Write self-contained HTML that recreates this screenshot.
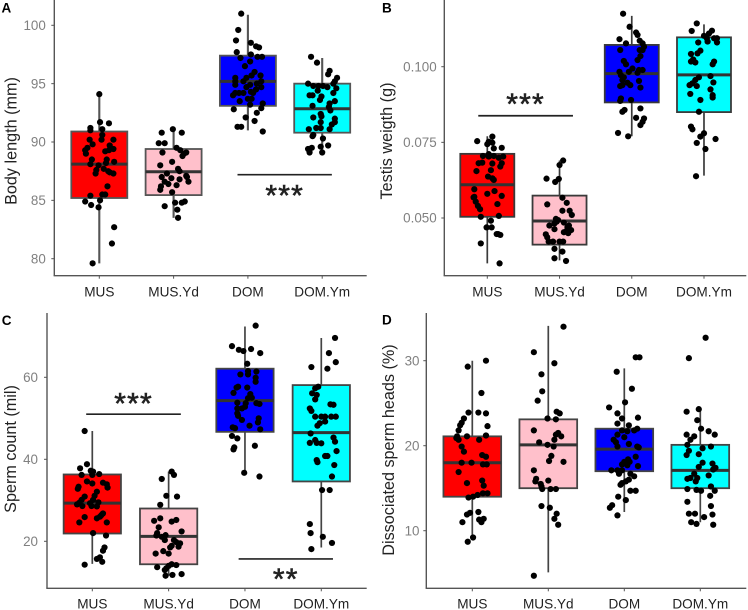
<!DOCTYPE html>
<html lang="en">
<head>
<meta charset="utf-8">
<title>Boxplots of body length, testis weight, sperm count and dissociated sperm heads</title>
<style>
html,body{margin:0;padding:0;background:#fff;}
svg{display:block;font-family:"Liberation Sans",Arial,sans-serif;filter:blur(0.3px);}
</style>
</head>
<body>
<svg id="figure" xmlns="http://www.w3.org/2000/svg" width="748" height="610" viewBox="0 0 748 610"></svg>
<script>
/* Shared categories */
const categories = ['MUS', 'MUS.Yd', 'DOM', 'DOM.Ym'];
const boxFills = ['#ff0000', '#ffc0cb', '#0000ff', '#00ffff'];

/* Panel A: body length (mm) */
const aTickValues = [80, 85, 90, 95, 100];
const aTickLabels = ['80', '85', '90', '95', '100'];
const aQ1 = [85.2, 85.45, 93.1, 90.8];
const aMedian = [88.1, 87.45, 95.2, 92.85];
const aQ3 = [90.9, 89.4, 97.4, 95];
const aWhiskerLow = [79.6, 83.5, 91, 89];
const aWhiskerHigh = [94.1, 91.1, 100.9, 97.2];
/* Points are [jitter in category units, value] */
const aPointsMus = [[0,94.1],[.01,91.7],[.13,91.6],[-.12,91.2],[-.12,91],[.04,91.1],[.04,90.6],[.19,90.2],[-.13,90.2],[.03,90.2],[-.09,89.8],[-.16,89.5],[.14,89.7],[.19,89.4],[-.19,89.3],[-.18,89],[.08,89.2],[.13,89.3],[.1,88.5],[.2,88.3],[-.1,88.5],[-.12,88.1],[.09,88.2],[-.01,88],[.06,87.7],[.12,87.5],[.19,87.3],[-.05,87.3],[.14,87.4],[-.04,87.6],[.11,86.2],[-.12,85.4],[.04,85.5],[.08,85.5],[.01,85],[-.19,84.9],[-.11,84.6],[-.01,84.4],[.2,82.7],[.17,81.3],[-.09,79.6]];
const aPointsMusYd = [[-.16,90.8],[-.01,91.1],[.11,90.8],[-.2,89.9],[-.12,89.9],[.04,89.5],[-.15,89.1],[.09,89.3],[.17,89.1],[.12,88.8],[.14,89],[-.02,88.3],[-.18,88],[.06,87.7],[.08,87.5],[-.09,87.3],[.17,87.1],[-.16,87],[-.03,86.9],[.08,86.8],[.18,87],[.2,86.6],[-.12,86.6],[-.07,86.4],[.04,86.3],[-.17,86.2],[-.18,85.9],[-.02,85.7],[.02,84.8],[.11,84.8],[.15,84.9],[-.12,84.5],[.05,84.2],[.06,83.5]];
const aPointsDom = [[-.09,101],[-.13,99.6],[-.16,98.7],[.04,98.5],[.11,98.2],[.15,98.1],[-.15,97.7],[.04,97.5],[-.1,97.2],[.13,97.3],[.19,97.3],[.03,96.9],[-.04,96.5],[.09,96],[.05,95.7],[.17,95.7],[-.17,95.5],[-.02,95.5],[.18,95.2],[-.17,95.2],[-.06,95.2],[.12,95],[.03,94.9],[-.17,94.9],[-.02,94.7],[.18,94.7],[.11,94.5],[.04,94.3],[-.06,94.2],[-.12,94.2],[-.17,94.2],[-.2,94],[.07,94.2],[0,93.7],[.05,93.7],[-.11,93.5],[.2,93.3],[.03,93.2],[.18,92.9],[-.19,92.8],[.12,92.5],[-.03,92.1],[.09,91.8],[-.09,91.3],[-.14,91.3],[.2,90.9]];
const aPointsDomYm = [[-.15,97.3],[-.07,96.8],[.1,96.1],[.08,95.8],[.2,95.5],[.17,95.2],[-.19,95],[.15,95],[-.12,94.8],[-.05,94.8],[.01,94.8],[.19,94.6],[.07,94.7],[-.06,94.4],[.15,94.2],[-.17,94],[-.13,94],[-.01,93.9],[-.03,93.6],[.17,93.5],[.1,93.3],[.09,93],[-.13,93.1],[.11,92.7],[-.02,92.4],[-.01,92.2],[.17,92],[-.12,92.1],[.17,91.7],[-.02,91.7],[.13,91.5],[-.08,91.2],[-.18,91.1],[-.02,91.2],[.1,91.1],[-.12,90.6],[-.13,90.5],[.01,90.3],[.08,89.7],[-.02,89.6],[-.14,89.5],[-.19,89.4],[-.17,89.1],[0,89.1]];

/* Panel B: testis weight (g) */
const bTickValues = [0.05, 0.075, 0.1];
const bTickLabels = ['0.050', '0.075', '0.100'];
const bQ1 = [0.0504, 0.0412, 0.0882, 0.085];
const bMedian = [0.061, 0.049, 0.0977, 0.0973];
const bQ3 = [0.0712, 0.0574, 0.1072, 0.1097];
const bWhiskerLow = [0.035, 0.036, 0.077, 0.064];
const bWhiskerHigh = [0.077, 0.069, 0.1168, 0.114];
const bPointsMus = [[.17,.035],[-.09,.0416],[.18,.0444],[.15,.0447],[.13,.0447],[-.01,.0469],[.06,.0469],[.05,.0491],[-.09,.0504],[.16,.0507],[-.1,.0529],[-.13,.054],[.14,.0546],[-.16,.0554],[-.19,.0568],[-.18,.057],[.2,.0573],[0,.058],[-.18,.0595],[.1,.0589],[.07,.0631],[.01,.0637],[.09,.0626],[-.15,.0655],[.05,.0658],[.18,.067],[.2,.0681],[-.12,.0681],[-.07,.0683],[.07,.068],[-.06,.0705],[.02,.0703],[.09,.0705],[.22,.0703],[.2,.0732],[.09,.073],[.07,.0749],[0,.0744],[-.14,.0754],[.07,.0769],[.02,.0752],[.02,.0711],[.16,.0699]];
const bPointsMusYd = [[.05,.069],[0,.0675],[-.18,.063],[-.01,.0629],[-.06,.0619],[.04,.0567],[.1,.055],[-.17,.0545],[.04,.0524],[.14,.0524],[.17,.051],[-.05,.0497],[-.04,.0488],[-.02,.0493],[-.07,.0482],[.06,.0485],[-.14,.0475],[.13,.0475],[-.07,.0463],[.11,.047],[.1,.0458],[.16,.046],[.06,.0453],[.12,.045],[-.19,.0446],[-.17,.0436],[-.15,.0422],[-.09,.0422],[0,.0422],[.05,.0422],[-.07,.0398],[.04,.0389],[-.07,.0367],[.09,.0358]];
const bPointsDom = [[-.12,.1175],[-.03,.1132],[.06,.1113],[.08,.1105],[-.17,.1091],[.11,.1086],[-.08,.1077],[.15,.1077],[.17,.1066],[-.16,.1055],[.11,.1055],[.15,.1055],[.12,.1035],[.08,.1022],[-.11,.1019],[-.08,.1008],[.01,.0994],[.1,.0989],[.15,.0989],[-.17,.0983],[.08,.098],[-.15,.0972],[-.04,.0983],[-.11,.0965],[-.13,.0956],[.1,.0953],[-.06,.0947],[-.13,.0939],[-.16,.0936],[-.02,.0939],[.12,.0931],[-.15,.0895],[-.16,.0887],[-.01,.089],[-.1,.0857],[.12,.0862],[-.13,.0851],[.06,.0831],[.17,.0829],[.15,.0818],[.12,.0807],[-.19,.0781],[-.05,.077]];
const bPointsDomYm = [[-.1,.1143],[-.17,.1118],[.11,.1119],[.07,.111],[0,.1102],[.04,.1094],[.14,.1094],[.18,.1094],[.05,.1083],[-.08,.108],[.18,.108],[-.05,.1053],[-.18,.1042],[-.09,.1044],[-.15,.1024],[-.18,.1017],[-.12,.1014],[.14,.1017],[.12,.1008],[.09,.0969],[-.07,.0965],[-.12,.0956],[.13,.0948],[-.16,.0945],[-.2,.0939],[-.1,.0936],[.09,.0925],[.12,.0906],[-.19,.091],[.12,.0898],[-.05,.089],[-.07,.0851],[-.18,.0802],[-.16,.0793],[0,.078],[-.05,.0769],[.16,.0761],[-.1,.0748],[.02,.0728],[-.11,.0638]];

/* Panel C: sperm count (mil) */
const cTickValues = [20, 40, 60];
const cTickLabels = ['20', '40', '60'];
const cQ1 = [21.9, 14.4, 46.7, 34.6];
const cMedian = [29.3, 21.2, 54.3, 46.5];
const cQ3 = [36.3, 28, 62.1, 58.1];
const cWhiskerLow = [14.5, 11.6, 36.2, 18.5];
const cWhiskerHigh = [46.9, 37, 72.4, 69.6];
const cPointsMus = [[-.1,46.9],[-.07,38.8],[-.16,37.8],[-.02,37.2],[.01,37],[.09,36.4],[-.14,36.2],[0,36.2],[-.07,34.6],[0,34.1],[.14,34.3],[.19,33.9],[.2,33.1],[-.18,33.3],[-.19,32.8],[.06,32.1],[.03,31.1],[-.1,30.9],[-.14,30.1],[.01,30.1],[-.17,29.4],[-.2,29],[-.03,29.3],[.08,29.5],[-.13,28.6],[-.01,28.6],[.06,28.5],[.14,26.8],[.1,26],[-.1,25.9],[.06,25.6],[.12,26.4],[-.17,24.6],[.19,24.6],[.01,22],[.18,21.4],[.16,18.5],[.14,17.7],[.1,16.1],[.06,15.7],[.13,15],[-.1,14.3]];
const cPointsMusYd = [[.04,37],[.07,36.2],[-.09,35.2],[-.03,31.1],[.11,30.9],[-.11,28.9],[-.11,25.6],[-.19,25],[.1,25.2],[.04,24.8],[-.13,23.4],[.17,22.4],[-.15,22],[-.04,21.5],[-.16,21.4],[-.09,21.1],[-.05,20.3],[.07,20.3],[.1,19.8],[.15,19.5],[.04,18.9],[.02,18.5],[.13,18.7],[-.07,17.6],[-.17,17],[0,17],[.04,14.4],[.1,14.2],[-.15,13.7],[0,14],[-.03,13.4],[-.05,13],[.17,12],[.05,11.8],[-.04,11.6]];
const cPointsDom = [[.14,72.6],[-.17,67.6],[-.08,66.7],[-.02,66.4],[.08,66.9],[.2,65.9],[.03,63.3],[.04,61.5],[.15,61.4],[-.06,60.7],[.04,60.7],[.14,59.9],[.14,58.9],[-.09,57.7],[-.11,57.5],[.03,57.5],[-.15,56.2],[.07,55.9],[.04,54.9],[.09,55],[-.1,53.8],[.01,53.7],[.15,53.7],[.19,53.5],[0,52.8],[-.1,52.4],[-.04,52.4],[-.1,51.2],[-.09,50.6],[-.04,49.6],[.18,50],[.17,49],[.06,48.2],[-.16,47.8],[-.13,47.6],[.2,47.3],[-.17,45.7],[-.1,45.1],[.13,43.3],[-.14,42.9],[-.15,42.4],[-.01,36.7],[.19,35.8]];
const cPointsDomYm = [[.18,69.6],[.1,65.9],[.19,63.7],[-.13,62.5],[.08,62.1],[-.04,57.7],[-.08,57.3],[-.12,56.1],[-.06,55.7],[-.08,54.6],[-.15,52.4],[-.13,51.8],[.12,53.4],[.16,53.3],[-.08,50.4],[0,50.4],[.05,50.4],[.13,50.4],[.19,50.4],[.05,49.2],[-.02,48.8],[-.05,48.2],[-.14,46.3],[.16,45.3],[.18,44.3],[-.15,44],[-.08,44.7],[-.06,44],[0,43.9],[.2,42],[.05,40.8],[.08,40.8],[-.06,39.8],[-.05,39.3],[.17,38.6],[.14,35.8],[.01,32.5],[.11,32.5],[-.15,24.2],[-.14,22],[.02,21.1],[.14,19.6],[-.13,18.1]];

/* Panel D: dissociated sperm heads (%) */
const dTickValues = [10, 20, 30];
const dTickLabels = ['10', '20', '30'];
const dQ1 = [14, 15, 17, 15];
const dMedian = [18, 20.1, 19.6, 17.1];
const dQ3 = [21.1, 23.1, 22, 20.1];
const dWhiskerLow = [9.2, 5.1, 12.2, 11];
const dWhiskerHigh = [30, 34.1, 29.1, 24.2];
const dPointsMus = [[.18,30],[-.06,29.3],[.12,26.2],[-.05,23.9],[.08,23.9],[.18,23.8],[-.11,23.2],[-.14,22.7],[-.16,22.4],[.2,22.3],[-.18,21.8],[-.2,21.1],[-.07,21.1],[.18,21.2],[-.21,20.9],[-.18,20.7],[.09,20.7],[-.14,19.9],[-.11,19.3],[.13,18.9],[.18,18.7],[-.14,18],[-.01,18],[.14,17.8],[.19,17.8],[-.18,16.9],[.13,15.9],[-.07,15.6],[.15,15.3],[.2,14.4],[.14,14.4],[.07,14.2],[.01,14],[-.05,13.9],[.08,12.2],[-.03,12.1],[-.07,11.9],[.15,11.4],[.09,11.3],[-.13,11],[.12,11],[.01,9.2],[-.06,8.7]];
const dPointsMusYd = [[.2,34],[-.19,31],[.08,29.7],[-.09,28.4],[-.08,26.4],[-.14,25.3],[.11,24],[.15,23.8],[-.01,23.2],[.1,23.1],[-.19,21.8],[.13,21.5],[.1,21.3],[.17,21.1],[.08,20.7],[-.12,20.4],[-.01,20.1],[.07,19.9],[.04,18.8],[.01,18.2],[.2,18.1],[-.19,17.1],[-.16,16.1],[-.17,15.8],[0,15.9],[-.1,15.5],[-.09,15.2],[-.08,14.9],[.03,14.9],[.1,14.9],[-.09,12.9],[.02,12.7],[.11,12],[.08,11.4],[.13,10.7],[-.19,4.7]];
const dPointsDom = [[.15,30.4],[.2,30.4],[-.1,28.7],[.1,26.7],[.01,25.1],[-.2,24.5],[.18,23.3],[-.09,23.8],[-.03,23.2],[-.09,22.6],[.06,22.4],[-.03,21.8],[.17,22],[.13,21.8],[.04,21.7],[-.09,21.3],[0,21],[-.14,20.7],[-.11,20.4],[.06,20.2],[.17,19.9],[.19,19.8],[-.09,19.9],[.15,18.7],[.05,18.4],[0,18.1],[.07,18.1],[-.03,17.8],[.04,17.7],[.18,17.6],[-.17,17.1],[-.09,17.1],[-.03,17.1],[-.07,16.7],[.08,16.7],[.13,16.4],[.06,16],[.02,15.8],[-.03,15.6],[-.05,15.4],[.08,14.7],[.15,14.7],[-.08,14],[.02,13.6],[-.16,13],[-.19,12.7],[-.09,11.8]];
const dPointsDomYm = [[.07,32.7],[-.15,30.3],[-.02,24.3],[-.18,24],[-.04,23],[.01,22],[.11,21.7],[.19,21.3],[-.18,21.3],[-.08,21.1],[-.13,20.7],[-.17,20.1],[.14,19.9],[.03,19.7],[-.15,19.4],[-.18,18.9],[-.02,19],[.03,18],[.16,17.9],[-.02,17.5],[.2,17.4],[.17,17.2],[-.08,16.7],[.11,16.5],[-.13,16.2],[-.17,16.1],[-.04,16.2],[-.06,15.8],[.14,15.2],[.19,14.7],[-.17,14.9],[-.05,14.8],[.01,14.7],[.13,14.1],[-.17,13.4],[.14,12.9],[-.15,12],[-.07,12],[.16,11.9],[.05,11.6],[-.12,11],[-.05,10.8],[.17,10.7]];

const svg = document.getElementById('figure');
const NS = 'http://www.w3.org/2000/svg';

function attrs(el, map) {
  for (const k in map) el.setAttribute(k, map[k]);
  return el;
}

function makeLine(parent, name, x1, y1, x2, y2, stroke, width) {
  const el = document.createElementNS(NS, 'line');
  
  
  attrs(el, {x1: x1, y1: y1, x2: x2, y2: y2, stroke: stroke, 'stroke-width': width});
  parent.appendChild(el);
  return el;
}

function makeText(parent, name, str, x, y, size, fill, anchor) {
  const el = document.createElementNS(NS, 'text');
  
  
  attrs(el, {x: x, y: y, 'font-size': size, fill: fill, 'text-anchor': anchor});
  el.textContent = str;
  parent.appendChild(el);
  return el;
}

function drawPanel(p) {
  const g = document.createElementNS(NS, 'g');
  
  
  svg.appendChild(g);

  /* Axis functions */
  const yScale = function (v) {
    return p.y0 + (v - p.v0) * (p.y1 - p.y0) / (p.v1 - p.v0);
  };
  const xScale = function (c) {
    return p.x0 + c * p.step;
  };

  /* Boxes */
  categories.forEach(function (cat, i) {
    const key = cat.toLowerCase().replace('.', '-');
    const cx = xScale(i);
    makeLine(g, 'whisker-' + key, cx, yScale(p.whiskerLow[i]), cx, yScale(p.whiskerHigh[i]), p.boxStroke, p.whiskerWidth);
    const rect = document.createElementNS(NS, 'rect');
    
    
    attrs(rect, {
      x: cx - p.boxWidth / 2,
      y: yScale(p.q3[i]),
      width: p.boxWidth,
      height: yScale(p.q1[i]) - yScale(p.q3[i]),
      fill: boxFills[i],
      stroke: p.boxStroke,
      'stroke-width': 1.8
    });
    g.appendChild(rect);
    makeLine(g, 'median-' + key, cx - p.boxWidth / 2, yScale(p.median[i]), cx + p.boxWidth / 2, yScale(p.median[i]), '#333333', 3);
  });

  /* Jittered points */
  p.points.forEach(function (series, i) {
    series.forEach(function (pt) {
      const c = document.createElementNS(NS, 'circle');
      
      
      attrs(c, {cx: xScale(i + pt[0]), cy: yScale(pt[1]), r: 3.1, fill: '#000000'});
      g.appendChild(c);
    });
  });

  /* Axes */
  makeLine(g, 'y-axis-line', p.axisX, p.axisTop, p.axisX, p.axisBottom, '#555555', 1.4);
  makeLine(g, 'x-axis-line', p.axisX - 0.7, p.axisBottom, p.axisRight, p.axisBottom, '#555555', 1.4);
  p.tickValues.forEach(function (v, i) {
    makeLine(g, 'y-tick', p.axisX - 3, yScale(v), p.axisX, yScale(v), '#555555', 1);
    makeText(g, 'y-tick-label', p.tickLabels[i], p.axisX - p.tickGap, yScale(v) + 4.7, 13.4, '#808080', 'end');
  });
  categories.forEach(function (cat, i) {
    makeLine(g, 'x-tick', xScale(i), p.axisBottom, xScale(i), p.axisBottom + 3, '#555555', 1);
    makeText(g, 'x-tick-label', cat, xScale(i), p.xLabelY, 13.6, '#222222', 'middle');
  });

  /* Titles */
  const title = makeText(g, 'y-axis-title', p.title, p.titleX, p.titleY, 16.2, '#222222', 'middle');
  title.setAttribute('transform', 'rotate(-90 ' + p.titleX + ' ' + p.titleY + ')');
  const letter = makeText(g, 'panel-letter', p.letter, p.letterX, p.letterY, 13.5, '#000000', 'start');
  letter.setAttribute('font-weight', 'bold');

  /* Significance annotations */
  p.brackets.forEach(function (b) {
    const y = yScale(b.value);
    makeLine(g, 'significance-line', xScale(b.from), y, xScale(b.to), y, '#222222', 1.7);
    const t = makeText(g, 'significance-stars', b.label, (xScale(b.from) + xScale(b.to)) / 2, y + b.textOffset, 30, '#222222', 'middle');
    t.setAttribute('letter-spacing', '1.2');
    t.setAttribute('stroke', '#222222');
    t.setAttribute('stroke-width', '0.6');
  });
}

drawPanel({
  name: 'panel-a-body-length', letter: 'A', letterX: 1.5, letterY: 12.7,
  title: 'Body length (mm)', titleX: 16.6, titleY: 141,
  axisX: 54.3, axisTop: 0, axisBottom: 275.7, axisRight: 366.7, tickGap: 8.5, xLabelY: 296.7,
  x0: 99.3, step: 74.3, boxWidth: 56, boxStroke: '#555555', whiskerWidth: 2.1,
  v0: 100, y0: 25.3, v1: 80, y1: 258.7,
  tickValues: aTickValues, tickLabels: aTickLabels,
  q1: aQ1, median: aMedian, q3: aQ3, whiskerLow: aWhiskerLow, whiskerHigh: aWhiskerHigh,
  points: [aPointsMus, aPointsMusYd, aPointsDom, aPointsDomYm],
  brackets: [{from: 1.86, to: 3.13, value: 87.2, label: '***', textOffset: 31}]
});

drawPanel({
  name: 'panel-b-testis-weight', letter: 'B', letterX: 382, letterY: 12.7,
  title: 'Testis weigth (g)', titleX: 392, titleY: 141,
  axisX: 444.3, axisTop: 0, axisBottom: 275.7, axisRight: 746.3, tickGap: 7.6, xLabelY: 296.7,
  x0: 487.3, step: 72.23, boxWidth: 54, boxStroke: '#3a3a3a', whiskerWidth: 1.7,
  v0: 0.1, y0: 66.7, v1: 0.05, y1: 218,
  tickValues: bTickValues, tickLabels: bTickLabels,
  q1: bQ1, median: bMedian, q3: bQ3, whiskerLow: bWhiskerLow, whiskerHigh: bWhiskerHigh,
  points: [bPointsMus, bPointsMusYd, bPointsDom, bPointsDomYm],
  brackets: [{from: -0.125, to: 1.186, value: 0.0838, label: '***', textOffset: -1.5}]
});

drawPanel({
  name: 'panel-c-sperm-count', letter: 'C', letterX: 1.7, letterY: 325,
  title: 'Sperm count (mil)', titleX: 16, titleY: 449,
  axisX: 47, axisTop: 313, axisBottom: 588.3, axisRight: 366.7, tickGap: 9, xLabelY: 608.5,
  x0: 92.3, step: 76.33, boxWidth: 57.3, boxStroke: '#444444', whiskerWidth: 1.7,
  v0: 60, y0: 377.3, v1: 20, y1: 541.3,
  tickValues: cTickValues, tickLabels: cTickLabels,
  q1: cQ1, median: cMedian, q3: cQ3, whiskerLow: cWhiskerLow, whiskerHigh: cWhiskerHigh,
  points: [cPointsMus, cPointsMusYd, cPointsDom, cPointsDomYm],
  brackets: [
    {from: -0.08, to: 1.16, value: 51, label: '***', textOffset: -0.5},
    {from: 1.917, to: 3.153, value: 15.7, label: '**', textOffset: 30}
  ]
});

drawPanel({
  name: 'panel-d-dissociated-heads', letter: 'D', letterX: 382, letterY: 324.5,
  title: 'Dissociated sperm heads (%)', titleX: 394, titleY: 450,
  axisX: 426.3, axisTop: 313, axisBottom: 588.3, axisRight: 746.3, tickGap: 6.8, xLabelY: 608.5,
  x0: 472.3, step: 76, boxWidth: 57.7, boxStroke: '#444444', whiskerWidth: 1.7,
  v0: 30, y0: 360.7, v1: 10, y1: 530.7,
  tickValues: dTickValues, tickLabels: dTickLabels,
  q1: dQ1, median: dMedian, q3: dQ3, whiskerLow: dWhiskerLow, whiskerHigh: dWhiskerHigh,
  points: [dPointsMus, dPointsMusYd, dPointsDom, dPointsDomYm],
  brackets: []
});
</script>
</body>
</html>
